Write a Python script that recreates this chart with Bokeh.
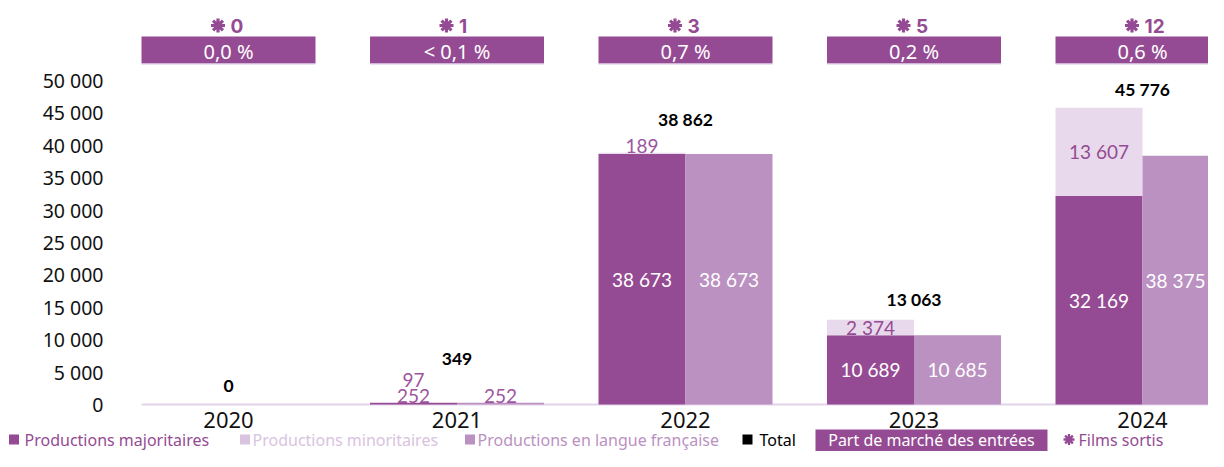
from bokeh.plotting import figure
from bokeh.models import ColumnDataSource, Range1d, FixedTicker
from bokeh.core.properties import value
from bokeh.embed import file_html
from bokeh.resources import INLINE

# ---------------- data ----------------
years = ["2020", "2021", "2022", "2023", "2024"]
majoritaires = [0, 252, 38673, 10689, 32169]
minoritaires = [0, 97, 189, 2374, 13607]
langue_francaise = [0, 252, 38673, 10685, 38375]
totals = [0, 349, 38862, 13063, 45776]
part_de_marche = ["0,0 %", "< 0,1 %", "0,7 %", "0,2 %", "0,6 %"]
films_sortis = [0, 1, 3, 5, 12]
y_ticks = [0, 5000, 10000, 15000, 20000, 25000, 30000, 35000, 40000, 45000, 50000]
y_tick_labels = ["0", "5 000", "10 000", "15 000", "20 000", "25 000",
                 "30 000", "35 000", "40 000", "45 000", "50 000"]
legend_labels = ["Productions majoritaires", "Productions minoritaires",
                 "Productions en langue française", "Total",
                 "Part de marché des entrées", "Films sortis"]

# ---------------- styles ----------------
DARK = "#954B93"
MED = "#BB91C2"
LIGHT = "#E8D9EC"
LEG_LIGHT = "#D9C3E0"
AXIS = "#E3D3E8"
OUT_LABEL = "#9D55A0"
FONT = "Noto Sans"
NUMFONT = "Lato"

W, H = 1208, 451
CAT_PX = 228.5          # px per category
C0 = 228.0              # x of first category centre
Y0 = 404.0              # y of value 0
K = 324.0 / 50000.0     # px per unit


def dx(px):
    return (px - C0) / CAT_PX


def dy(py):
    return (Y0 - py) / K


half_group = 87.0 / CAT_PX
bar_w = half_group
xs = list(range(len(years)))

p = figure(width=W, height=H,
           x_range=Range1d(dx(0), dx(W)),
           y_range=Range1d(dy(H), dy(0)),
           output_backend="svg", toolbar_location=None,
           min_border=0, min_border_left=0, min_border_right=0,
           min_border_top=0, min_border_bottom=0,
           outline_line_color=None,
           background_fill_color="white", border_fill_color="white")
p.grid.visible = False

# x axis at y = 0
p.xaxis.fixed_location = 0
p.xaxis.ticker = FixedTicker(ticks=xs)
p.xaxis.major_label_overrides = {i: y for i, y in zip(xs, years)}
p.xaxis.axis_line_color = None
p.xaxis.major_tick_in = 0
p.xaxis.major_tick_out = 0
p.xaxis.minor_tick_in = 0
p.xaxis.minor_tick_out = 0
p.xaxis.major_label_standoff = 7
p.xaxis.major_label_text_font = FONT
p.xaxis.major_label_text_font_size = "22px"
p.xaxis.major_label_text_color = "#111111"

# y axis
p.yaxis.fixed_location = dx(141)
p.yaxis.ticker = FixedTicker(ticks=y_ticks)
p.yaxis.major_label_overrides = {t: l for t, l in zip(y_ticks, y_tick_labels)}
p.yaxis.axis_line_color = None
p.yaxis.major_tick_in = 0
p.yaxis.major_tick_out = 0
p.yaxis.minor_tick_in = 0
p.yaxis.minor_tick_out = 0
p.yaxis.major_label_standoff = 38
p.yaxis.major_label_text_font = FONT
p.yaxis.major_label_text_font_size = "19.5px"
p.yaxis.major_label_text_color = "#111111"

# baseline
p.segment(x0=[xs[0] - half_group], y0=[0], x1=[dx(W)], y1=[0],
          line_color=AXIS, line_width=2)

stack = [a + b for a, b in zip(majoritaires, minoritaires)]
src = ColumnDataSource(dict(
    xl=[x - bar_w / 2 for x in xs],
    xr=[x + bar_w / 2 for x in xs],
    maj=majoritaires, stack=stack, langue=langue_francaise,
))
p.vbar(x="xl", width=bar_w, bottom=0, top="maj", source=src,
       fill_color=DARK, line_color=None)
p.vbar(x="xl", width=bar_w, bottom="maj", top="stack", source=src,
       fill_color=LIGHT, line_color=None)
p.vbar(x="xr", width=bar_w, bottom=0, top="langue", source=src,
       fill_color=MED, line_color=None)


def fmt(v):
    return f"{v:,}".replace(",", " ")


x_max = dx(W)

# segment labels
lx, ly, lt, lc, loff = [], [], [], [], []
for i in xs:
    segs_left = [(0, majoritaires[i], majoritaires[i], "white"),
                 (majoritaires[i], stack[i], minoritaires[i], DARK)]
    segs_right = [(0, langue_francaise[i], langue_francaise[i], "white")]
    for xpos, segs in ((i - bar_w / 2, segs_left), (i + bar_w / 2, segs_right)):
        # centre of the visible part of the bar
        vis_left = xpos - bar_w / 2
        vis_right = min(xpos + bar_w / 2, x_max)
        xvis = (vis_left + vis_right) / 2
        last_screen = None
        for bottom, top, v, col in segs:
            if v == 0:
                continue
            hpx = (top - bottom) * K
            if hpx >= 10:
                lx.append(xvis); ly.append((bottom + top) / 2); lt.append(fmt(v))
                lc.append(col); loff.append(0)
            else:
                screen = Y0 - top * K - 7
                if last_screen is not None and screen > last_screen - 16:
                    screen = last_screen - 16
                last_screen = screen
                lx.append(xvis); ly.append(top); lt.append(fmt(v))
                lc.append(OUT_LABEL); loff.append(screen - (Y0 - top * K))
p.text(x=lx, y=ly, text=lt, text_color=lc, y_offset=loff,
       text_align="center", text_baseline="middle",
       text_font=value(NUMFONT), text_font_size="19px")

# totals
TOTAL_OFFSETS = [-19, -43, -33, -20, -18]
p.text(x=xs, y=totals, text=[fmt(v) for v in totals], y_offset=TOTAL_OFFSETS,
       text_align="center", text_baseline="middle", text_color="#000000",
       text_font=value(NUMFONT), text_font_size="17.5px", text_font_style="bold")

# header boxes: market share
p.quad(left=[x - half_group for x in xs], right=[x + half_group for x in xs],
       bottom=dy(63), top=dy(36), fill_color=DARK, line_color=None)
p.segment(x0=[x - half_group for x in xs], x1=[x + half_group for x in xs],
          y0=dy(63.5), y1=dy(63.5), line_color="#D9C3E0", line_width=1)
p.text(x=xs, y=dy(51), text=part_de_marche, text_color="white",
       text_align="center", text_baseline="middle",
       text_font=value(FONT), text_font_size="20px")

# films sortis
STAR_DX = -10.5 / CAT_PX
p.scatter(x=[x + STAR_DX for x in xs], y=dy(25), marker="asterisk", size=14,
          line_color=DARK, line_width=3.2)
p.text(x=xs, y=dy(25), text=[str(v) for v in films_sortis], x_offset=2,
       text_align="left", text_baseline="middle", text_color=DARK,
       text_font=value("Inter"), text_font_size="19px", text_font_style="bold")

# legend
LEG_PY = 439
LEG_Y = dy(LEG_PY)
sq_x = [dx(13.5), dx(244.5), dx(469.5), dx(747)]
sq_c = [DARK, LEG_LIGHT, MED, "#000000"]
p.scatter(x=sq_x, y=[LEG_Y] * 4, marker="square", size=10, fill_color=sq_c,
          line_color=None)
p.text(x=[dx(24), dx(252), dx(477), dx(759)], y=[LEG_Y] * 4,
       text=legend_labels[:4], text_color=[DARK, LEG_LIGHT, MED, "#000000"],
       text_align="left", text_baseline="middle",
       text_font=value(FONT), text_font_size="16px")
p.quad(left=[dx(815)], right=[dx(1047)], bottom=[dy(H + 2)], top=[dy(LEG_PY - 10)],
       fill_color=DARK, line_color=None)
p.text(x=[dx(931)], y=[LEG_Y], text=[legend_labels[4]], text_color="white",
       text_align="center", text_baseline="middle",
       text_font=value(FONT), text_font_size="16px")
p.scatter(x=[dx(1068.5)], y=[LEG_Y], marker="asterisk", size=11,
          line_color=DARK, line_width=2.4)
p.text(x=[dx(1078)], y=[LEG_Y], text=[legend_labels[5]], text_color=DARK,
       text_align="left", text_baseline="middle",
       text_font=value(FONT), text_font_size="16px")

open("out.html", "w").write(file_html(p, INLINE))
